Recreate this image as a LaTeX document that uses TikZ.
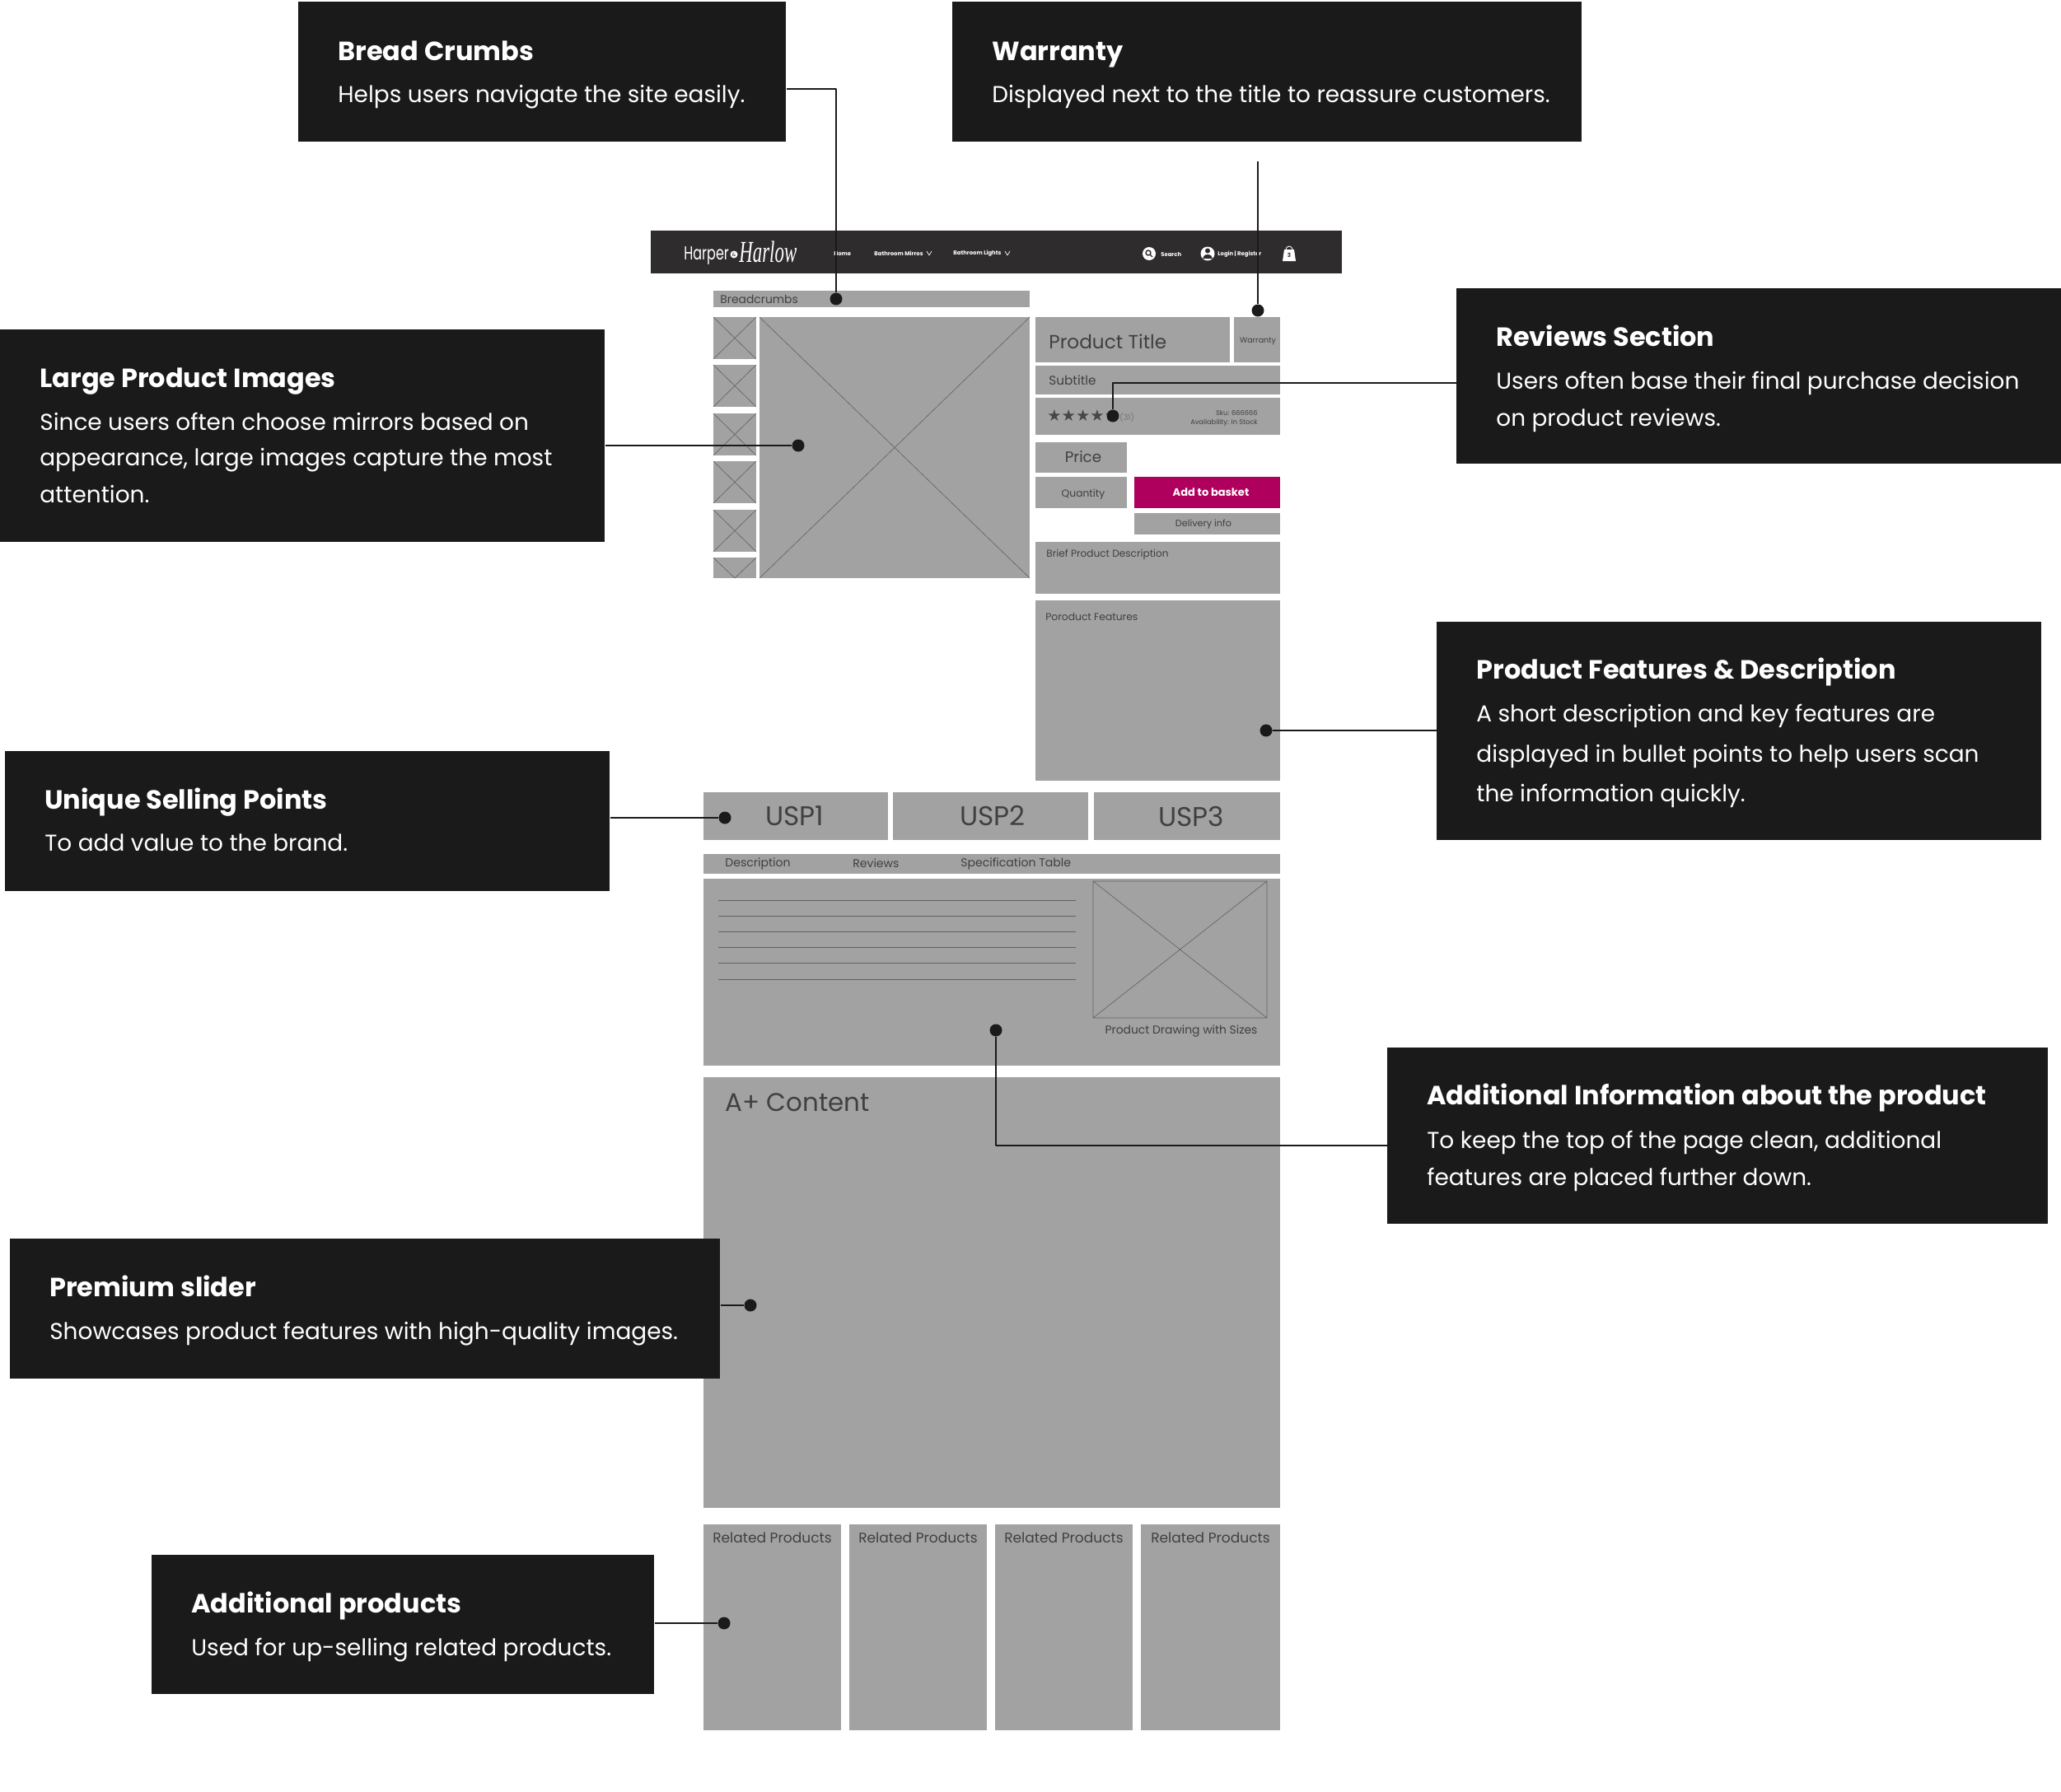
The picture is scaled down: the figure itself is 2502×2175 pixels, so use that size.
\documentclass[tikz,border=0pt]{standalone}
\usepackage{fontspec}
\setmainfont{Poppins}
\newfontfamily\logofont{Liberation Serif}
\newfontfamily\starfont{DejaVu Sans}
\definecolor{darkbox}{HTML}{1A1A1A}
\definecolor{navbar}{HTML}{2E2C2C}
\definecolor{wiregray}{HTML}{A2A2A2}
\definecolor{wiretext}{HTML}{404040}
\definecolor{basket}{HTML}{B0005E}
\newcommand{\fs}[1]{\fontsize{#1}{#1}\selectfont}
\newcommand{\pxu}{0.02cm}
\tikzset{
	callout/.style={fill=darkbox,anchor=north west,inner sep=0pt},
	calltitle/.style={anchor=base west,inner sep=0pt,text=white,font=\fs{18.2}\bfseries},
	calltext/.style={anchor=north west,inner sep=0pt,text=white,align=left,font=\fs{15.9}},
	wire/.style={fill=wiregray},
	wirelabel/.style={inner sep=0pt,text=wiretext},
	navlabel/.style={inner sep=0pt,text=white,anchor=west,font=\fs{3.9}\bfseries},
	cross/.style={draw=black!62,line width=0.35pt},
	dot/.style={circle,fill=darkbox,inner sep=0pt,minimum size=15*\pxu},
	conn/.style={draw=darkbox,line width=1pt}
}
\begin{document}
\begin{tikzpicture}[x=0.02cm,y=-0.02cm,line join=round]
	\useasboundingbox (0,0) rectangle (2502,2175);
	% nav bar
	\fill[navbar] (790,280) rectangle (1629,332);
	\node[navlabel,font=\fs{13}] (logoA) at (830,310) {\scalebox{0.7}[1]{Harper}};
	\node[circle,fill=white,inner sep=0pt,minimum size=9*\pxu,text=navbar,font=\fs{3.5}] (logoB) at (891,309) {\&};
	\node[navlabel,font=\logofont\fs{21}\itshape] (logoC) at (897,306) {\scalebox{0.62}[1]{Harlow}};
	\node[navlabel] (navHome) at (1012,308) {Home};
	\node[navlabel] (navMirrors) at (1061,308) {Bathroom Mirros};
	\node[navlabel] (navLights) at (1157,308) {Bathroom Lights};
	\draw[white,line width=0.4pt] (1125,305)--(1128,310)--(1131,305) (1220,305)--(1223,310)--(1226,305);
	\fill[white] (1395,308) circle (8);
	\draw[navbar,line width=0.8pt] (1394,307) circle (3) (1396,309)--(1399,312);
	\node[navlabel] (navSearch) at (1409,309) {Search};
	\fill[white] (1466,308) circle (8.5);
	\fill[navbar] (1466,304.5) circle (3) (1460,314) arc (180:360:6 and 5) -- cycle;
	\node[navlabel] (navLogin) at (1478,309) {Login | Register};
	\fill[white] (1559,303) -- (1571,303) -- (1573,317) -- (1557,317) -- cycle;
	\draw[white,line width=0.5pt] (1561,303) arc (180:360:4);
	\node[inner sep=0pt,text=navbar,font=\fs{4}\bfseries] (navBag) at (1565,310) {3};
	% left column
	\fill[wire] (866,353) rectangle (1250,373);
	\node[wirelabel,anchor=west,font=\fs{7.9}] (crumbLabel) at (874,363) {Breadcrumbs};
	\foreach \yt/\yb in {385/436,443/494,502/553,560/611,619/670}{
		\fill[wire] (866,\yt) rectangle (918,\yb);
		\draw[cross] (866,\yt)--(918,\yb) (918,\yt)--(866,\yb);
	}
	\fill[wire] (866,677) rectangle (918,702);
	\draw[cross] (866,677)--(892,702)--(918,677);
	\fill[wire] (922,385) rectangle (1250,702);
	\draw[cross] (922,385)--(1250,702) (1250,385)--(922,702);
	% right column
	\fill[wire] (1257,385) rectangle (1493,440);
	\fill[wire] (1498,385) rectangle (1554,440);
	\fill[wire] (1257,444) rectangle (1554,479);
	\fill[wire] (1257,483) rectangle (1554,528);
	\fill[wire] (1257,537) rectangle (1368,574);
	\fill[wire] (1257,579) rectangle (1368,617);
	\fill[basket] (1377,579) rectangle (1554,617);
	\fill[wire] (1377,623) rectangle (1554,649);
	\fill[wire] (1257,658) rectangle (1554,721);
	\fill[wire] (1257,729) rectangle (1554,948);
	\node[wirelabel,anchor=west,font=\fs{13.2}] (titleLabel) at (1273,415) {Product Title};
	\node[wirelabel,font=\fs{5.4}] (warrantyLabel) at (1527,414) {Warranty};
	\node[wirelabel,anchor=west,font=\fs{8.7}] (subtitleLabel) at (1273,462) {Subtitle};
	\node[wirelabel,anchor=west,font=\starfont\fs{11},text=black!72] (starLabel) at (1271,505) {★★★★★};
	\node[wirelabel,anchor=west,font=\fs{5.5},text=black!55] (countLabel) at (1359,507) {(31)};
	\node[wirelabel,anchor=east,font=\fs{4.7}] (skuLabel) at (1527,501) {Sku: 666666};
	\node[wirelabel,anchor=east,font=\fs{4.7}] (stockLabel) at (1527,513) {Availability: In Stock};
	\node[wirelabel,font=\fs{10.4}] (priceLabel) at (1315,555) {Price};
	\node[wirelabel,font=\fs{7}] (quantityLabel) at (1315,600) {Quantity};
	\node[wirelabel,text=white,font=\fs{7.4}\bfseries] (basketLabel) at (1470,598) {Add to basket};
	\node[wirelabel,font=\fs{6.4}] (deliveryLabel) at (1461,637) {Delivery info};
	\node[wirelabel,anchor=west,font=\fs{6.9}] (briefLabel) at (1270,673) {Brief Product Description};
	\node[wirelabel,anchor=west,font=\fs{7}] (featureLabel) at (1269,749) {Poroduct Features};
	% usp row
	\fill[wire] (854,962) rectangle (1078,1020);
	\fill[wire] (1084,962) rectangle (1321,1020);
	\fill[wire] (1328,962) rectangle (1554,1020);
	\node[wirelabel,font=\fs{18.7}] (uspA) at (965,991) {USP1};
	\node[wirelabel,font=\fs{18.7}] (uspB) at (1205,991) {USP2};
	\node[wirelabel,font=\fs{18.7}] (uspC) at (1446,991) {USP3};
	% tabs
	\fill[wire] (854,1037) rectangle (1554,1061);
	\node[wirelabel,anchor=west,font=\fs{8}] (tabDesc) at (880,1049) {Description};
	\node[wirelabel,anchor=west,font=\fs{8}] (tabReviews) at (1035,1048) {Reviews};
	\node[wirelabel,anchor=west,font=\fs{8}] (tabSpec) at (1166,1049) {Specification Table};
	\fill[wire] (854,1067) rectangle (1554,1294);
	\foreach \yl in {1093,1112,1131,1150,1169,1189}
		\draw[cross] (872,\yl)--(1306,\yl);
	\draw[cross] (1327,1070) rectangle (1538,1236) (1327,1070)--(1538,1236) (1538,1070)--(1327,1236);
	\node[wirelabel,font=\fs{7.9}] (drawingLabel) at (1434,1252) {Product Drawing with Sizes};
	% a+ and related
	\fill[wire] (854,1308) rectangle (1554,1831);
	\node[wirelabel,anchor=west,font=\fs{17.6}] (aplusLabel) at (880,1339) {A+ Content};
	\foreach \xa/\xb [count=\i] in {854/1021,1031/1198,1208/1375,1385/1554}{
		\fill[wire] (\xa,1851) rectangle (\xb,2101);
		\node[wirelabel,font=\fs{9.7}] (related\i) at ({(\xa+\xb)/2},1867) {Related Products};
	}
	% callouts
	\node[callout,minimum width=592*\pxu,minimum height=170*\pxu] (boxCrumbs) at (362,2) {};
	\node[calltitle] (titleCrumbs) at (410,73) {Bread Crumbs};
	\node[calltext] (textCrumbs) at (410,102.5) {Helps users navigate the site easily.};
	\node[callout,minimum width=764*\pxu,minimum height=170*\pxu] (boxWarranty) at (1156,2) {};
	\node[calltitle] (titleWarranty) at (1204,73) {Warranty};
	\node[calltext] (textWarranty) at (1204,102.5) {Displayed next to the title to reassure customers.};
	\node[callout,minimum width=734*\pxu,minimum height=213*\pxu] (boxReviews) at (1768,350) {};
	\node[calltitle] (titleReviews) at (1816,420.5) {Reviews Section};
	\node[calltext] (textReviews) at (1816,450.5) {Users often base their final purchase decision\\[8.6pt]on product reviews.};
	\node[callout,minimum width=734*\pxu,minimum height=258*\pxu] (boxLarge) at (0,400) {};
	\node[calltitle] (titleLarge) at (48,470.5) {Large Product Images};
	\node[calltext] (textLarge) at (48,500.5) {Since users often choose mirrors based on\\[8.6pt]appearance, large images capture the most\\[8.6pt]attention.};
	\node[callout,minimum width=734*\pxu,minimum height=265*\pxu] (boxFeatures) at (1744,755) {};
	\node[calltitle] (titleFeatures) at (1792,824) {Product Features \& Description};
	\node[calltext] (textFeatures) at (1792,855) {A short description and key features are\\[10.3pt]displayed in bullet points to help users scan\\[10.3pt]the information quickly.};
	\node[callout,minimum width=734*\pxu,minimum height=170*\pxu] (boxUnique) at (6,912) {};
	\node[calltitle] (titleUnique) at (54,982) {Unique Selling Points};
	\node[calltext] (textUnique) at (54,1012) {To add value to the brand.};
	\node[callout,minimum width=802*\pxu,minimum height=214*\pxu] (boxInfo) at (1684,1272) {};
	\node[calltitle] (titleInfo) at (1732,1341.5) {Additional Information about the product};
	\node[calltext] (textInfo) at (1732,1372.5) {To keep the top of the page clean, additional\\[8.6pt]features are placed further down.};
	\node[callout,minimum width=862*\pxu,minimum height=170*\pxu] (boxSlider) at (12,1504) {};
	\node[calltitle] (titleSlider) at (60,1574.5) {Premium slider};
	\node[calltext] (textSlider) at (60,1604.5) {Showcases product features with high-quality images.};
	\node[callout,minimum width=610*\pxu,minimum height=169*\pxu] (boxProducts) at (184,1888) {};
	\node[calltitle] (titleProducts) at (232,1958) {Additional products};
	\node[calltext] (textProducts) at (232,1988.5) {Used for up-selling related products.};
	% dots and connectors
	\node[dot] (dotCrumbs) at (1015,363) {};
	\node[dot] (dotWarranty) at (1527,377) {};
	\node[dot] (dotReviews) at (1351,505) {};
	\node[dot] (dotLarge) at (969,541) {};
	\node[dot] (dotFeatures) at (1537,887) {};
	\node[dot] (dotUnique) at (880,993) {};
	\node[dot] (dotInfo) at (1209,1251) {};
	\node[dot] (dotSlider) at (911,1585) {};
	\node[dot] (dotProducts) at (879,1971) {};
	\coordinate (endWarranty) at (1527,196);
	\draw[conn] (boxCrumbs.east |- 0,108) -| (dotCrumbs);
	\draw[conn] (endWarranty) -- (dotWarranty);
	\draw[conn] (boxReviews.west |- 0,465) -| (dotReviews);
	\draw[conn] (boxLarge.east |- dotLarge) -- (dotLarge);
	\draw[conn] (boxFeatures.west |- dotFeatures) -- (dotFeatures);
	\draw[conn] (boxUnique.east |- dotUnique) -- (dotUnique);
	\draw[conn] (boxInfo.west |- 0,1391) -| (dotInfo);
	\draw[conn] (boxSlider.east |- dotSlider) -- (dotSlider);
	\draw[conn] (boxProducts.east |- dotProducts) -- (dotProducts);
\end{tikzpicture}
\end{document}
